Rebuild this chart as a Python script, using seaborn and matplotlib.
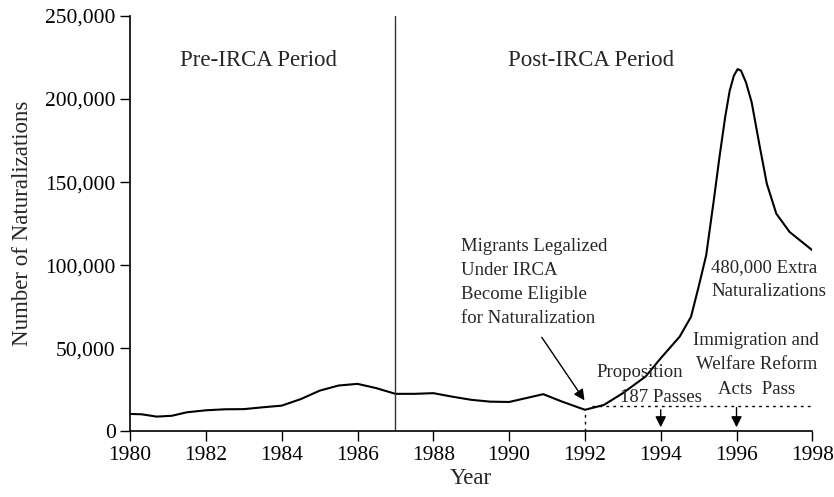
import pandas as pd
import matplotlib.pyplot as plt
import matplotlib.ticker as mticker
import seaborn as sns

# Estilo base
sns.set_theme(style="ticks")
plt.rcParams['font.family'] = ['Liberation Serif', 'DejaVu Serif']

# Datos (naturalizaciones)
years = [1980, 1980.3, 1980.7, 1981.1, 1981.5, 1982, 1982.5, 1983, 1983.5, 1984,
         1984.5, 1985, 1985.5, 1986, 1986.5, 1987, 1987.5, 1988, 1988.5, 1989,
         1989.5, 1990, 1990.5, 1990.9, 1991.4, 1992, 1992.5, 1993, 1993.6, 1994,
         1994.5, 1994.8, 1995, 1995.2, 1995.4, 1995.55, 1995.7, 1995.82, 1995.93,
         1996.03, 1996.12, 1996.25, 1996.4, 1996.6, 1996.8, 1997.05, 1997.4, 1998]
naturalizations = [10500, 10300, 8900, 9400, 11500, 12700, 13300, 13400, 14500, 15500,
                   19400, 24500, 27600, 28600, 26000, 22600, 22600, 23000, 20900, 19000,
                   17900, 17700, 20300, 22400, 17900, 13000, 15900, 23000, 33000, 44000,
                   57000, 69000, 87000, 106000, 139000, 165000, 189000, 205000, 214000,
                   218000, 217000, 210000, 198000, 173000, 149000, 131000, 120000, 109000]
x_ticks = list(range(1980, 1999, 2))
y_ticks = [0, 50000, 100000, 150000, 200000, 250000]

df = pd.DataFrame({'Year': years, 'Naturalizations': naturalizations})

fig, ax = plt.subplots(figsize=(8.34, 4.97), dpi=100)
fig.subplots_adjust(left=0.156, right=0.974, bottom=0.132, top=0.968)

sns.lineplot(data=df, x='Year', y='Naturalizations', ax=ax, color='black', linewidth=1.5)

ax.set_xlim(1980, 1998)
ax.set_ylim(0, 250000)
ax.set_xticks(x_ticks)
ax.set_yticks(y_ticks)
ax.yaxis.set_major_formatter(mticker.StrMethodFormatter('{x:,.0f}'))
ax.tick_params(axis='both', direction='out', length=7, width=1, colors='black', labelsize=15.5)
ax.set_xlabel('Year', fontsize=16.5, labelpad=2)
ax.set_ylabel('Number of Naturalizations', fontsize=16.5, labelpad=9)
for s in ['left', 'bottom']:
    ax.spines[s].set_color('black')
    ax.spines[s].set_linewidth(1.2)
sns.despine(ax=ax)

# Línea IRCA
ax.axvline(1987, color='#333333', linewidth=1)
ax.text(1983.4, 223000, 'Pre-IRCA Period', ha='center', va='center', fontsize=16.5)
ax.text(1992.16, 223000, 'Post-IRCA Period', ha='center', va='center', fontsize=16.5)

# Anotaciones
ax.text(1988.73, 89500, 'Migrants Legalized\nUnder IRCA\nBecome Eligible\nfor Naturalization',
        ha='left', va='center', fontsize=13.5, linespacing=1.55)
ax.annotate('', xy=(1992.03, 17300), xytext=(1990.82, 58000),
            arrowprops=dict(arrowstyle='-|>', color='black', lw=1, mutation_scale=16))
ax.plot([1992, 1992], [0, 13000], color='black', linestyle=(0, (2, 3)), linewidth=1)
ax.plot([1992.2, 1998], [15300, 15300], color='black', linestyle=(0, (2, 3)), linewidth=1)

ax.text(1993.46, 35200, 'Proposition', ha='center', va='center', fontsize=13.5)
ax.text(1994.01, 20200, '187 Passes', ha='center', va='center', fontsize=13.5)
ax.annotate('', xy=(1994, 800), xytext=(1994, 14700),
            arrowprops=dict(arrowstyle='-|>', color='black', lw=1, mutation_scale=16))

ax.text(1996.52, 40000, 'Immigration and\nWelfare Reform\nActs  Pass',
        ha='center', va='center', fontsize=13.5, linespacing=1.55)
ax.annotate('', xy=(1996, 800), xytext=(1996, 16000),
            arrowprops=dict(arrowstyle='-|>', color='black', lw=1, mutation_scale=16))

ax.text(1995.33, 91500, '480,000 Extra\nNaturalizations', ha='left', va='center',
        fontsize=13.5, linespacing=1.55)

plt.savefig('out.png', dpi=100)
